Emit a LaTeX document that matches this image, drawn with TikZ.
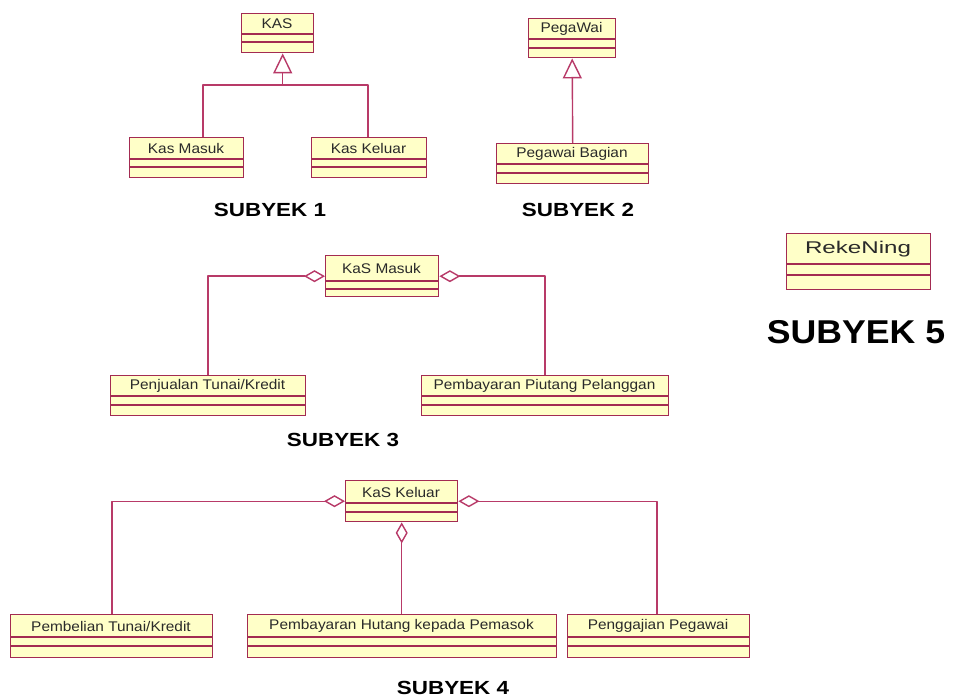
\documentclass[tikz,border=0pt]{standalone}
\usepackage{fontspec}
\setmainfont{Liberation Sans}
\usepackage{graphicx}
\usetikzlibrary{arrows.meta}

\definecolor{clsfill}{HTML}{FFFFC8}
\definecolor{clsdraw}{HTML}{A32B52}
\definecolor{linkcol}{HTML}{B83A68}
\definecolor{txt}{HTML}{2A2A2A}

% horizontally widened text
\newcommand{\wide}[2]{\scalebox{#1}[1]{#2}}

% UML class box: name, left, top, right, bottom, first rule, second rule, title
\newcommand{\umlclass}[8]{%
  \node[clsbox, minimum width={#4pt-#2pt}, minimum height={#5pt-#3pt},
        anchor=north west] (#1) at (#2,#3) {};
  \draw[clsrule] (#2,#6) -- (#4,#6);
  \draw[clsrule] (#2,#7) -- (#4,#7);
  \node[clstext] (#1-name) at ({(#2+#4)/2},{(#3+#6)/2+0.5}) {#8};
}

\tikzset{
  clsbox/.style={draw=clsdraw, fill=clsfill, line width=1.4pt, inner sep=0pt},
  clsrule/.style={draw=clsdraw, line width=1.3pt},
  clstext/.style={text=txt, inner sep=0pt,
                  font=\fontsize{14}{16}\selectfont},
  subjlabel/.style={text=black, inner sep=0pt,
                    font=\fontsize{19}{21}\selectfont\bfseries},
  link/.style={draw=linkcol, line width=1.4pt, line join=round},
  gen/.style={link, -{Triangle[width=19pt, length=20pt, fill=white]}},
  agg/.style={link, -{Diamond[width=12pt, length=21pt, fill=white]}},
}

\begin{document}
\begin{tikzpicture}[x=1pt, y=-1pt]
  \useasboundingbox[fill=white] (0,0) rectangle (955,700);

  % ---- Subyek 1: generalisation of KAS
  \umlclass{kas}{241}{13}{313}{52}{34}{42}{\wide{1.1}{KAS}}
  \umlclass{kasmasuk}{129}{137}{243}{177}{159}{167}{\wide{1.1}{Kas Masuk}}
  \umlclass{kaskeluar}{311}{137}{426}{177}{159}{167}{\wide{1.1}{Kas Keluar}}
  \coordinate (g1) at (282.7,85);
  \coordinate (g1l) at (203,85);
  \coordinate (g1r) at (368,85);
  \draw[link] (kasmasuk.north -| g1l) -- (g1l) -- (g1r) -- (kaskeluar.north -| g1r);
  \draw[gen] (g1) -- (kas.south -| g1);
  \node[subjlabel] (s1) at (270,210) {\wide{1.18}{SUBYEK 1}};

  % ---- Subyek 2: generalisation of PegaWai
  \umlclass{pegawai}{528}{18}{615}{57}{39}{48}{\wide{1.1}{PegaWai}}
  \umlclass{pegbag}{496}{143}{648}{183}{164}{173}{\wide{1.1}{Pegawai Bagian}}
  \draw[gen] (pegbag.north) -- (pegawai.south);
  \node[subjlabel] (s2) at (578,210) {\wide{1.18}{SUBYEK 2}};

  % ---- Subyek 3: aggregation into KaS Masuk
  \umlclass{ksm}{325}{255}{438}{296}{281}{289}{\wide{1.1}{KaS Masuk}}
  \umlclass{penj}{110}{375}{305}{415}{396}{405}{\wide{1.1}{Penjualan Tunai/Kredit}}
  \umlclass{piut}{421}{375}{668}{415}{396}{405}{\wide{1.1}{Pembayaran Piutang Pelanggan}}
  \coordinate (c3l) at (208,0);
  \coordinate (c3r) at (545,0);
  \draw[agg] (penj.north -| c3l) |- (ksm.west);
  \draw[agg] (piut.north -| c3r) |- (ksm.east);
  \node[subjlabel] (s3) at (343,440) {\wide{1.18}{SUBYEK 3}};

  % ---- Subyek 4: aggregation into KaS Keluar
  \umlclass{ksl}{345}{480}{457}{521}{503}{512}{\wide{1.1}{KaS Keluar}}
  \umlclass{pemb}{10}{614}{212}{657}{637}{646}{\wide{1.1}{Pembelian Tunai/Kredit}}
  \umlclass{hut}{247}{614}{556}{657}{637}{646}{\wide{1.1}{Pembayaran Hutang kepada Pemasok}}
  \umlclass{gaji}{567}{614}{749}{657}{637}{646}{\wide{1.1}{Penggajian Pegawai}}
  \coordinate (c4l) at (112,0);
  \coordinate (c4r) at (657,0);
  \draw[agg] (pemb.north -| c4l) |- (ksl.west);
  \draw[agg] (hut.north -| ksl.south) -- (ksl.south);
  \draw[agg] (gaji.north -| c4r) |- (ksl.east);
  \node[subjlabel] (s4) at (453,688) {\wide{1.18}{SUBYEK 4}};

  % ---- Subyek 5: single class
  \umlclass{rek}{786}{233}{930}{289}{264}{275}{\fontsize{17}{19}\selectfont\wide{1.42}{RekeNing}}
  \node[subjlabel, font=\fontsize{33}{36}\selectfont\bfseries] (s5) at (856,332) {\wide{1.08}{SUBYEK 5}};
\end{tikzpicture}
\end{document}
